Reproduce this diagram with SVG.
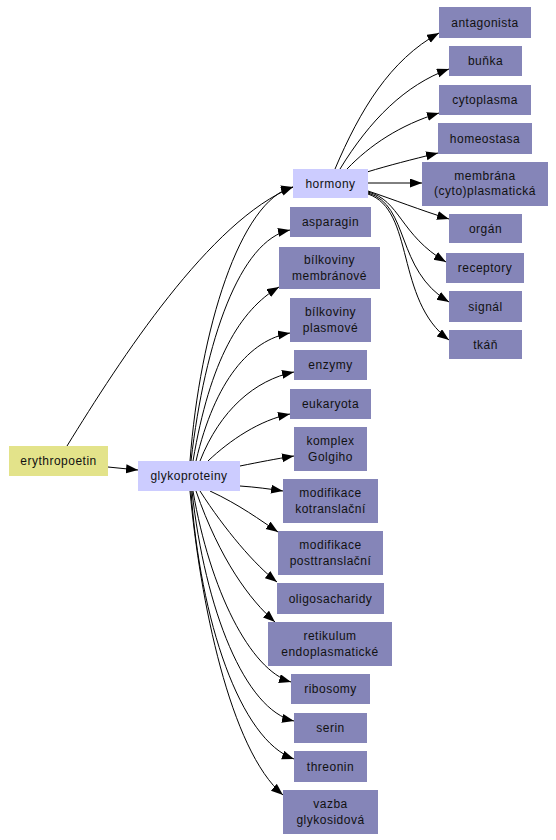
<svg xmlns="http://www.w3.org/2000/svg" width="556" height="840" viewBox="0 0 556 840">
<style>
.n{fill:#8585b8}
.h{fill:#ccccff}
.e{fill:#e3e38a}
text{font-family:"Liberation Sans",Arial,sans-serif;font-size:12px;fill:#111;text-anchor:middle;letter-spacing:0.5px}
.c path{fill:none;stroke:#000;stroke-width:1;marker-end:url(#a)}
</style>
<defs>
<marker id="a" markerUnits="userSpaceOnUse" markerWidth="13" markerHeight="10" refX="12" refY="4.5" orient="auto">
<path d="M0,0 L12,4.5 L0,9 z" fill="#000"/>
</marker>
</defs>
<rect width="556" height="840" fill="#fff"/>
<g class="c">
<path d="M67,446 C120,360 210,220 293,187"/>
<path d="M108,467 L138,470"/>
<path d="M190,461 C200,330 240,200 293,187"/>
<path d="M191,461 C205,340 240,240 290,230"/>
<path d="M193,461 C210,360 240,310 279,287"/>
<path d="M196,461 C215,380 250,340 290,333"/>
<path d="M200,461 C220,410 255,380 294,372"/>
<path d="M208,461 C230,440 260,420 290,414"/>
<path d="M240,466 C260,462 275,459 294,456"/>
<path d="M240,486 C255,487 270,489 283,491"/>
<path d="M210,491 C240,505 260,520 278,532"/>
<path d="M200,491 C225,530 255,565 277,582"/>
<path d="M196,491 C220,560 250,600 275,622"/>
<path d="M193,491 C210,590 250,670 291,682"/>
<path d="M192,491 C205,610 245,710 294,721"/>
<path d="M191,491 C200,620 240,740 294,759"/>
<path d="M190,491 C200,600 230,750 283,795"/>
<path d="M335,169 C360,110 390,60 439,33"/>
<path d="M340,169 C370,120 405,85 449,69"/>
<path d="M347,169 C370,145 400,125 439,113"/>
<path d="M367,172 C390,165 410,160 438,153"/>
<path d="M368,183 L422,183"/>
<path d="M368,191 C395,200 420,210 449,219"/>
<path d="M368,192 C400,200 400,235 446,262"/>
<path d="M368,193 C410,205 395,270 449,302"/>
<path d="M368,194 C415,210 395,300 449,340"/>
</g>
<g id="erythropoetin"><rect class="e" x="9" y="446" width="99" height="30"/><text x="58.5" y="465">erythropoetin</text></g>
<g id="glykoproteiny"><rect class="h" x="138" y="461" width="102" height="30"/><text x="189" y="480">glykoproteiny</text></g>
<g id="hormony"><rect class="h" x="293" y="169" width="75" height="29"/><text x="330.5" y="188">hormony</text></g>
<g id="antagonista"><rect class="n" x="439" y="7" width="92" height="31"/><text x="485" y="27">antagonista</text></g>
<g id="bunka"><rect class="n" x="449" y="46" width="73" height="30"/><text x="485.5" y="65">buňka</text></g>
<g id="cytoplasma"><rect class="n" x="439" y="85" width="92" height="30"/><text x="485" y="104">cytoplasma</text></g>
<g id="homeostasa"><rect class="n" x="438" y="123" width="94" height="31"/><text x="485" y="143">homeostasa</text></g>
<g id="membrana"><rect class="n" x="422" y="162" width="126" height="44"/><text x="485" y="180">membrána</text><text x="485" y="195">(cyto)plasmatická</text></g>
<g id="organ"><rect class="n" x="449" y="214" width="73" height="29"/><text x="485.5" y="233">orgán</text></g>
<g id="receptory"><rect class="n" x="446" y="253" width="78" height="30"/><text x="485" y="272">receptory</text></g>
<g id="signal"><rect class="n" x="449" y="291" width="73" height="31"/><text x="485.5" y="311">signál</text></g>
<g id="tkan"><rect class="n" x="449" y="330" width="73" height="29"/><text x="485.5" y="349">tkáň</text></g>
<g id="asparagin"><rect class="n" x="290" y="207" width="81" height="30"/><text x="330.5" y="226">asparagin</text></g>
<g id="bilkoviny-membranove"><rect class="n" x="279" y="247" width="101" height="42"/><text x="329.5" y="264">bílkoviny</text><text x="329.5" y="280">membránové</text></g>
<g id="bilkoviny-plasmove"><rect class="n" x="290" y="298" width="81" height="44"/><text x="330.5" y="316">bílkoviny</text><text x="330.5" y="332">plasmové</text></g>
<g id="enzymy"><rect class="n" x="294" y="350" width="73" height="30"/><text x="330.5" y="369">enzymy</text></g>
<g id="eukaryota"><rect class="n" x="290" y="389" width="81" height="30"/><text x="330.5" y="408">eukaryota</text></g>
<g id="komplex-golgiho"><rect class="n" x="294" y="427" width="73" height="44"/><text x="330.5" y="445">komplex</text><text x="330.5" y="461">Golgiho</text></g>
<g id="modifikace-kotranslacni"><rect class="n" x="283" y="479" width="95" height="44"/><text x="330.5" y="497">modifikace</text><text x="330.5" y="513">kotranslační</text></g>
<g id="modifikace-posttranslacni"><rect class="n" x="278" y="531" width="105" height="44"/><text x="330.5" y="549">modifikace</text><text x="330.5" y="565">posttranslační</text></g>
<g id="oligosacharidy"><rect class="n" x="277" y="583" width="107" height="31"/><text x="330.5" y="603">oligosacharidy</text></g>
<g id="retikulum"><rect class="n" x="268" y="622" width="124" height="44"/><text x="330" y="640">retikulum</text><text x="330" y="656">endoplasmatické</text></g>
<g id="ribosomy"><rect class="n" x="291" y="674" width="79" height="30"/><text x="330.5" y="693">ribosomy</text></g>
<g id="serin"><rect class="n" x="294" y="713" width="73" height="30"/><text x="330.5" y="732">serin</text></g>
<g id="threonin"><rect class="n" x="294" y="751" width="73" height="31"/><text x="330.5" y="771">threonin</text></g>
<g id="vazba"><rect class="n" x="283" y="790" width="95" height="44"/><text x="330.5" y="808">vazba</text><text x="330.5" y="824">glykosidová</text></g>
</svg>
